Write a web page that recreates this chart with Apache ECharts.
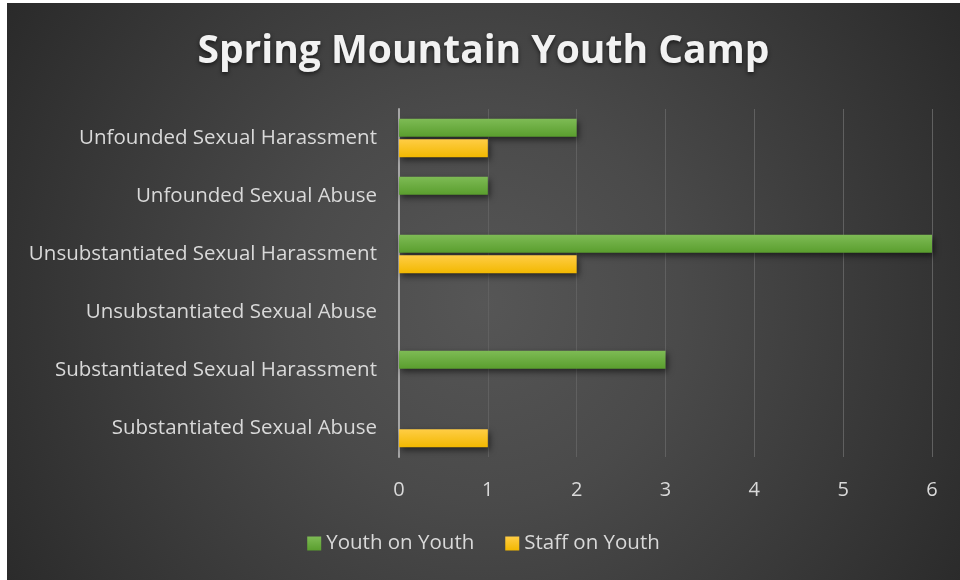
<!DOCTYPE html>
<html>
<head>
<meta charset="utf-8">
<title>Spring Mountain Youth Camp</title>
<script src="https://cdn.jsdelivr.net/npm/echarts@6/dist/echarts.min.js"></script>
<style>
  html, body { margin: 0; padding: 0; background: #fff; }
  #chart {
    position: absolute;
    left: 7px;
    top: 3px;
    width: 953px;
    height: 577px;
    background: radial-gradient(circle at 50% 52%, #565656 0%, #4a4a4a 35%, #2a2a2a 100%);
  }
</style>
</head>
<body>
<div id="chart"></div>
<script>
// categories listed bottom to top (category axis starts at the bottom)
const categories = [
  "Substantiated Sexual Abuse",
  "Substantiated Sexual Harassment",
  "Unsubstantiated Sexual Abuse",
  "Unsubstantiated Sexual Harassment",
  "Unfounded Sexual Abuse",
  "Unfounded Sexual Harassment"
];
const youthOnYouth = [0, 3, 0, 6, 1, 2];
const staffOnYouth = [1, 0, 0, 2, 0, 1];
const seriesNames = ["Youth on Youth", "Staff on Youth"];

const FONT = "'Open Sans', 'Noto Sans', sans-serif";

const green = new echarts.graphic.LinearGradient(0, 0, 0, 1, [
  { offset: 0, color: "#7ebb55" },
  { offset: 1, color: "#5a9e2e" }
]);
const yellow = new echarts.graphic.LinearGradient(0, 0, 0, 1, [
  { offset: 0, color: "#ffcd45" },
  { offset: 1, color: "#f2b800" }
]);

const chart = echarts.init(document.getElementById("chart"));

chart.setOption({
  backgroundColor: "transparent",
  textStyle: { fontFamily: FONT },
  title: {
    text: "Spring Mountain Youth Camp",
    left: "center",
    top: 24,
    textStyle: {
      color: "#f2f2f2",
      fontSize: 39,
      fontWeight: "bold",
      fontFamily: FONT,
      textShadowColor: "rgba(0,0,0,0.6)",
      textShadowBlur: 4,
      textShadowOffsetY: 2
    }
  },
  legend: {
    bottom: 21,
    left: "center",
    itemWidth: 14,
    itemHeight: 14,
    itemGap: 31,
    icon: "rect",
    selectedMode: false,
    textStyle: { color: "#d9d9d9", fontSize: 20.5, fontFamily: FONT },
    data: seriesNames
  },
  grid: {
    left: 392,
    top: 106,
    width: 533,
    height: 348,
    containLabel: false
  },
  xAxis: {
    type: "value",
    min: 0,
    max: 6,
    interval: 1,
    axisLine: { show: false },
    axisTick: { show: false },
    axisLabel: { color: "#d9d9d9", fontSize: 20, margin: 23, fontFamily: FONT },
    splitLine: { show: true, lineStyle: { color: "#606060", width: 1 } }
  },
  yAxis: {
    type: "category",
    data: categories,
    axisLine: { show: true, lineStyle: { color: "#a6a6a6", width: 2 } },
    axisTick: { show: false },
    axisLabel: { color: "#d9d9d9", fontSize: 20.5, margin: 22, fontFamily: FONT }
  },
  series: [
    {
      name: seriesNames[0],
      type: "bar",
      data: youthOnYouth,
      barWidth: 18,
      barGap: "15%",
      itemStyle: {
        color: green,
        shadowColor: "rgba(0,0,0,0.55)",
        shadowBlur: 6,
        shadowOffsetX: 2,
        shadowOffsetY: 3
      }
    },
    {
      name: seriesNames[1],
      type: "bar",
      data: staffOnYouth,
      barWidth: 18,
      barGap: "15%",
      itemStyle: {
        color: yellow,
        shadowColor: "rgba(0,0,0,0.55)",
        shadowBlur: 6,
        shadowOffsetX: 2,
        shadowOffsetY: 3
      }
    }
  ]
});
</script>
</body>
</html>
